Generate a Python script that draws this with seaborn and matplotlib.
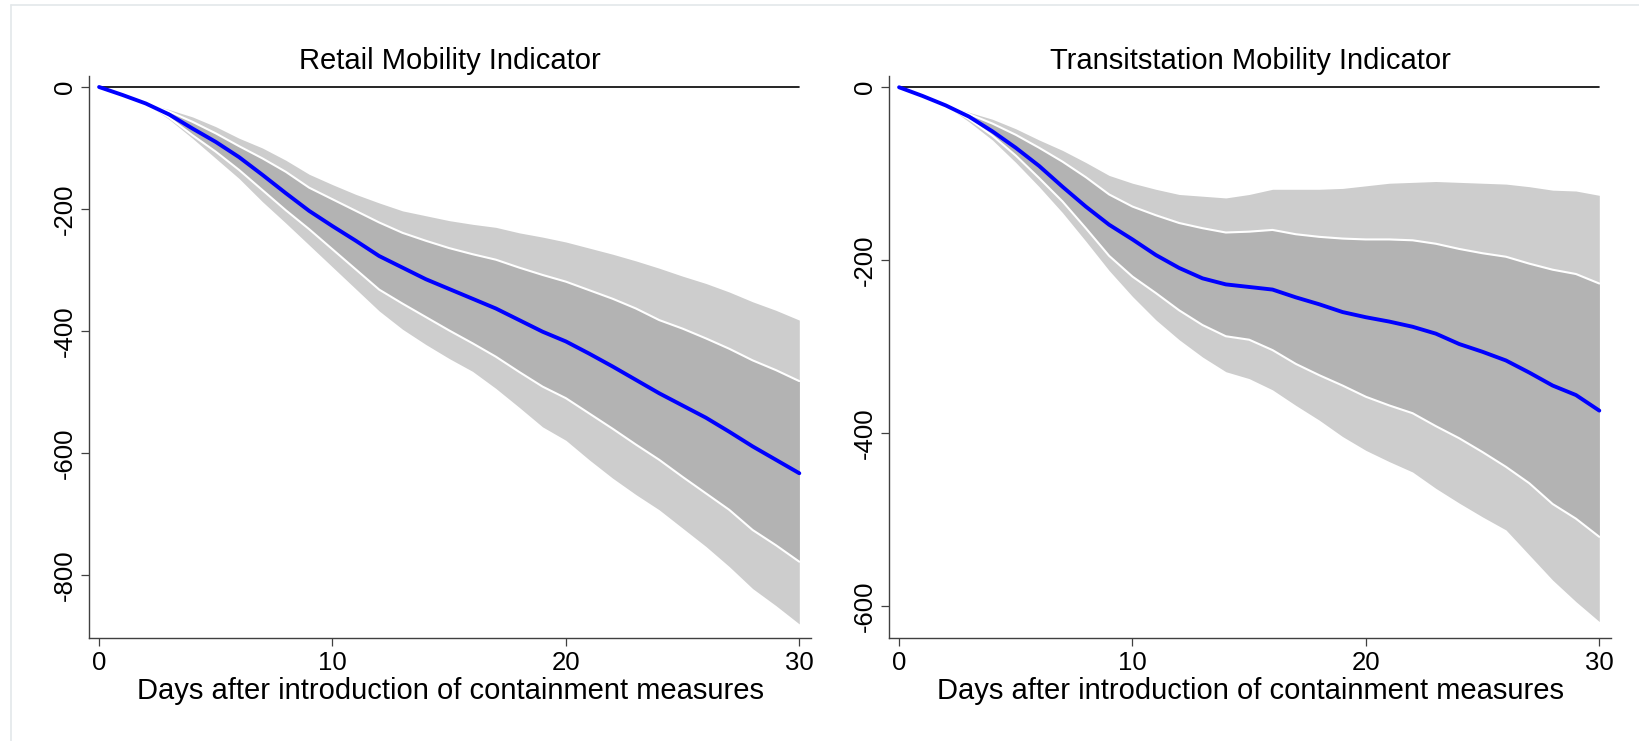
import numpy as np
import pandas as pd
import matplotlib
matplotlib.use("Agg")
import matplotlib.pyplot as plt
from matplotlib.lines import Line2D
import seaborn as sns

days = list(range(31))

# Retail
retail_mean = [0, -13, -27, -45, -68, -90, -115, -144, -174, -203, -228, -252, -277, -296, -315, -331,
               -347, -363, -382, -401, -417, -437, -458, -480, -502, -522, -542, -565, -589, -611, -633]
retail_hi90 = [0, -13, -27, -37, -49, -65, -84, -100, -120, -143, -160, -176, -190, -203, -211, -219,
               -225, -230, -239, -246, -254, -264, -274, -285, -297, -310, -322, -336, -352, -366, -382]
retail_hi68 = [0, -13, -27, -40, -57, -76, -97, -117, -139, -165, -184, -203, -222, -239, -252, -264,
               -274, -283, -296, -308, -319, -333, -347, -363, -382, -396, -412, -429, -448, -464, -482]
retail_lo68 = [0, -13, -27, -50, -79, -106, -136, -169, -202, -233, -266, -299, -332, -355, -377, -399,
               -420, -442, -467, -491, -510, -535, -560, -586, -611, -639, -666, -693, -726, -751, -778]
retail_lo90 = [0, -13, -27, -53, -84, -117, -150, -188, -223, -259, -295, -331, -367, -397, -422, -445,
               -466, -494, -525, -557, -579, -611, -641, -668, -693, -723, -753, -786, -822, -850, -880]

# Transit stations
transit_mean = [0, -10, -21, -34, -51, -70, -91, -115, -138, -159, -176, -194, -209, -221, -228, -231,
                -234, -243, -251, -260, -266, -271, -277, -285, -297, -306, -316, -330, -345, -356, -374]
transit_hi90 = [0, -10, -21, -29, -37, -48, -61, -73, -87, -102, -111, -118, -124, -126, -128, -124,
                -118, -118, -118, -117, -114, -111, -110, -109, -110, -111, -112, -115, -119, -120, -125]
transit_hi68 = [0, -10, -21, -31, -42, -55, -70, -86, -104, -124, -138, -148, -157, -163, -168, -167,
                -165, -170, -173, -175, -176, -176, -177, -181, -187, -192, -196, -204, -211, -216, -227]
transit_lo68 = [0, -10, -21, -37, -56, -79, -105, -132, -163, -195, -219, -238, -258, -275, -288, -292,
                -304, -320, -333, -345, -358, -368, -377, -392, -406, -422, -439, -458, -482, -499, -520]
transit_lo90 = [0, -10, -21, -40, -61, -87, -115, -145, -178, -212, -242, -269, -292, -312, -329, -337,
                -350, -368, -385, -404, -420, -433, -445, -464, -481, -497, -512, -541, -570, -595, -618]

titles = ["Retail Mobility Indicator", "Transitstation Mobility Indicator"]
xlabel = "Days after introduction of containment measures"
xticks = [0, 10, 20, 30]
yticks_retail = [0, -200, -400, -600, -800]
yticks_transit = [0, -200, -400, -600]

sns.set_style("ticks")
plt.rcParams["font.family"] = ["Liberation Sans", "DejaVu Sans"]
plt.rcParams["text.color"] = "black"
plt.rcParams["xtick.labelcolor"] = "black"
plt.rcParams["ytick.labelcolor"] = "black"
plt.rcParams["axes.labelcolor"] = "black"

fig = plt.figure(figsize=(16.4, 7.41), dpi=100)
ax1 = fig.add_axes([0.0543, 0.139, 0.4402, 0.7584])
ax2 = fig.add_axes([0.5421, 0.139, 0.4402, 0.7584])

panels = [
    (ax1, retail_mean, retail_hi90, retail_hi68, retail_lo68, retail_lo90, yticks_retail, (-903, 18)),
    (ax2, transit_mean, transit_hi90, transit_hi68, transit_lo68, transit_lo90, yticks_transit, (-637, 13)),
]

for i, (ax, mean, hi90, hi68, lo68, lo90, yt, ylim) in enumerate(panels):
    df = pd.DataFrame({"day": days, "mean": mean, "hi90": hi90, "hi68": hi68,
                       "lo68": lo68, "lo90": lo90})
    ax.fill_between(df["day"], df["lo90"], df["hi90"], color="#cdcdcd", lw=0)
    ax.fill_between(df["day"], df["lo68"], df["hi68"], color="#b3b3b3", lw=0)
    sns.lineplot(data=df, x="day", y="hi68", ax=ax, color="white", lw=1.5)
    sns.lineplot(data=df, x="day", y="lo68", ax=ax, color="white", lw=1.5)
    ax.plot(df["day"], np.zeros(len(df)), color="black", lw=1.2)
    sns.lineplot(data=df, x="day", y="mean", ax=ax, color="#0000ff", lw=2.8)

    ax.set_xlim(-0.43, 30.5)
    ax.set_ylim(*ylim)
    ax.set_xticks(xticks)
    ax.set_yticks(yt)
    ax.set_yticklabels([str(v) for v in yt], rotation=90, va="center")
    ax.tick_params(labelsize=18.5, length=6, width=0.9, color="#404040", pad=3)
    ax.set_xlabel(xlabel, fontsize=21, labelpad=2)
    ax.set_ylabel("")
    ax.set_title(titles[i], fontsize=21, pad=5)
    sns.despine(ax=ax)
    for s in ["left", "bottom"]:
        ax.spines[s].set_color("#404040")
        ax.spines[s].set_linewidth(1.0)

fig.add_artist(Line2D([11 / 1640, 1], [1 - 5 / 741, 1 - 5 / 741], color="#e3e8ea", lw=1.2))
fig.add_artist(Line2D([11 / 1640, 11 / 1640], [0, 1 - 5 / 741], color="#e3e8ea", lw=1.2))

fig.savefig("out.png", dpi=100, facecolor="white")
